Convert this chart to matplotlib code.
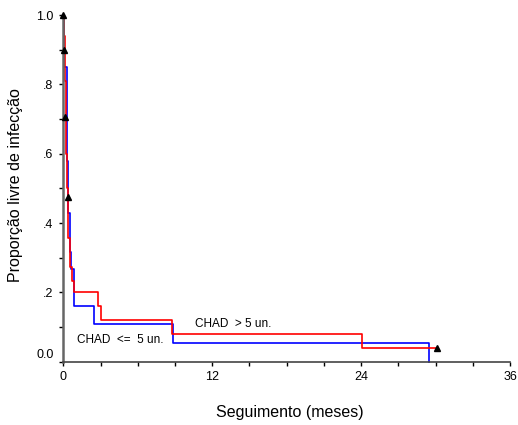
import numpy as np
import matplotlib.pyplot as plt
import matplotlib.transforms as mtransforms
from matplotlib.ticker import MultipleLocator

plt.rcParams['font.family'] = ['Liberation Sans', 'DejaVu Sans']

# Curva CHAD <= 5 un. (azul): tempos (meses) e proporção após cada degrau
t_low = [0, 0.08, 0.27, 0.33, 0.40, 0.50, 0.60, 0.86, 2.47, 8.87, 29.45]
s_low = [1.0, 0.85, 0.69, 0.58, 0.43, 0.317, 0.266, 0.16, 0.108, 0.053, 0.0]

# Curva CHAD > 5 un. (vermelho)
t_high = [0, 0.05, 0.10, 0.20, 0.30, 0.40, 0.54, 0.68, 0.86, 2.77, 3.0, 8.73, 24.1, 30.1]
s_high = [1.0, 0.94, 0.81, 0.60, 0.50, 0.357, 0.274, 0.234, 0.20, 0.16, 0.12, 0.081, 0.039, 0.039]

# marcas (triângulos)
tri_t = [0.0, 0.05, 0.10, 0.38, 30.1]
tri_s = [1.0, 0.90, 0.707, 0.474, 0.039]

x_ticks = [0, 12, 24, 36]
y_ticks = [0.0, 0.2, 0.4, 0.6, 0.8, 1.0]
y_labels = ['0.0', '.2', '.4', '.6', '.8', '1.0']

fig = plt.figure(figsize=(5.18, 4.25), dpi=100)
ax = fig.add_axes([0.1222, 0.149, 0.8624, 0.8157])

ax.step(t_low, s_low, where='post', color='#0000ff', lw=1.2, clip_on=False)
ax.step(t_high, s_high, where='post', color='#ff0000', lw=1.2, clip_on=False)
ax.plot(tri_t, tri_s, '^', color='black', ms=5, clip_on=False, zorder=5)

ax.text(1.1, 0.063, 'CHAD  <=  5 un.', fontsize=8.5, va='center')
ax.text(10.6, 0.109, 'CHAD  > 5 un.', fontsize=8.5, va='center')

ax.set_xlim(0, 36)
ax.set_ylim(0, 1)
ax.set_xticks(x_ticks)
ax.xaxis.set_minor_locator(MultipleLocator(3))
ax.set_yticks(y_ticks)
ax.set_yticklabels(y_labels)
ax.yaxis.set_minor_locator(MultipleLocator(0.1))
ax.tick_params(which='both', direction='out', length=3, width=1, labelsize=9, pad=4)

# rótulo 0.0 um pouco acima, como no original
lab0 = ax.get_yticklabels()[0]
lab0.set_transform(lab0.get_transform() + mtransforms.ScaledTranslation(0, 6 / 72, fig.dpi_scale_trans))

for s in ['top', 'right']:
    ax.spines[s].set_visible(False)
ax.spines['left'].set_color('#666666')
ax.spines['left'].set_linewidth(1.8)
ax.spines['bottom'].set_color('#444444')
ax.spines['bottom'].set_linewidth(1.2)

ax.set_xlabel('Seguimento (meses)', fontsize=11.5)
ax.set_ylabel('Proporção livre de infecção', fontsize=11.5)
ax.xaxis.set_label_coords(0.507, -0.125)
ax.yaxis.set_label_coords(-0.09, 0.51)

fig.savefig('out.png', dpi=100)
